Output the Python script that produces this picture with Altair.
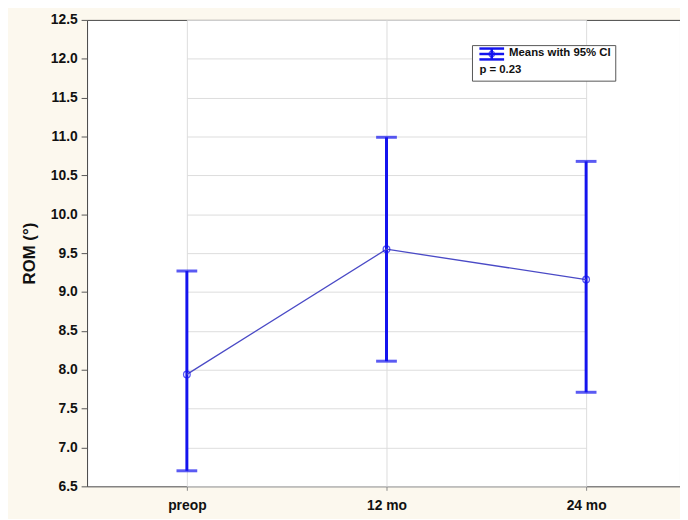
import altair as alt
import pandas as pd

categories = ["preop", "12 mo", "24 mo"]
means = [7.94, 9.55, 9.16]
lower = [6.70, 8.11, 7.71]
upper = [9.27, 10.99, 10.68]
y_ticks = [6.5, 7.0, 7.5, 8.0, 8.5, 9.0, 9.5, 10.0, 10.5, 11.0, 11.5, 12.0, 12.5]

df = pd.DataFrame({"cat": categories, "mean": means, "lo": lower, "hi": upper})

FONT = "Liberation Sans"
BLUE = "#1414ee"

x_axis = alt.Axis(labelAngle=0, labelFont=FONT, labelFontWeight="bold",
                  labelFontSize=14, labelColor="#111", labelPadding=8,
                  tickSize=4, tickColor="#888", domain=False,
                  grid=True, gridColor="#dcdcdc")
x = alt.X("cat:N", sort=categories, title=None,
          scale=alt.Scale(type="point", range=[101, 505], padding=0),
          axis=x_axis)
y_scale = alt.Scale(domain=[6.5, 12.5], nice=False, zero=False)
y_axis = alt.Axis(values=y_ticks, format=".1f", labelFont=FONT,
                  labelFontWeight="bold", labelFontSize=14, labelColor="#111",
                  labelPadding=4, tickSize=6, tickColor="#555", labelOverlap=False,
                  domain=False, gridColor="#dcdcdc",
                  titleFont=FONT, titleFontSize=17, titleFontWeight="bold",
                  titleColor="#111", titlePadding=12)


def Y(field):
    return alt.Y(field, scale=y_scale, axis=y_axis, title="ROM (°)")


base = alt.Chart(df)

bars = base.mark_rule(color=BLUE, strokeWidth=3).encode(
    x=x, y=Y("lo:Q"), y2="hi:Q")
cap_hi = base.mark_tick(color=BLUE, thickness=3, size=21).encode(x=x, y=Y("hi:Q"))
cap_lo = base.mark_tick(color=BLUE, thickness=3, size=21).encode(x=x, y=Y("lo:Q"))
line = base.mark_line(color="#4a4ac6", strokeWidth=1.3).encode(x=x, y=Y("mean:Q"))
pts = base.mark_point(shape="circle", size=45, color=BLUE, filled=False,
                      strokeWidth=1.3).encode(x=x, y=Y("mean:Q"))

# legend box (decoration)
lg = pd.DataFrame({"k": [0]})
lb = alt.Chart(lg)
box = lb.mark_rect(fill="white", stroke="#555", strokeWidth=1).encode(
    x=alt.value(390), x2=alt.value(535), y=alt.value(26), y2=alt.value(62))
ic_top = lb.mark_rule(color=BLUE, strokeWidth=2.5).encode(
    x=alt.value(397), x2=alt.value(422), y=alt.value(29))
ic_bot = lb.mark_rule(color=BLUE, strokeWidth=2.5).encode(
    x=alt.value(397), x2=alt.value(422), y=alt.value(40))
ic_mid = lb.mark_rule(color=BLUE, strokeWidth=2.5).encode(
    x=alt.value(397), x2=alt.value(422), y=alt.value(34.5))
ic_v = lb.mark_rule(color=BLUE, strokeWidth=2.5).encode(
    x=alt.value(409.5), y=alt.value(29), y2=alt.value(40))
ic_c = lb.mark_point(shape="circle", size=30, color=BLUE, filled=False, strokeWidth=1.3).encode(
    x=alt.value(409.5), y=alt.value(34.5))
t1 = lb.mark_text(text="Means with 95% CI", font=FONT, fontWeight="bold", fontSize=11.5,
                  align="left", baseline="middle", color="#111").encode(
    x=alt.value(427), y=alt.value(34))
t2 = lb.mark_text(text="p = 0.23", font=FONT, fontWeight="bold", fontSize=11.5,
                  align="left", baseline="middle", color="#111").encode(
    x=alt.value(397), y=alt.value(51))

chart = alt.layer(bars, cap_hi, cap_lo, line, pts, box, ic_top, ic_bot, ic_mid, ic_v, ic_c, t1, t2).properties(
    width=600, height=472, background="#fcf8ee",
    autosize=alt.AutoSizeParams(type="none"),
    padding={"left": 80, "top": 9, "right": 0, "bottom": 30},
).configure_view(fill="white", stroke="#444", strokeWidth=1)

chart.save("out.html", embed_options={"renderer": "svg", "actions": False})
